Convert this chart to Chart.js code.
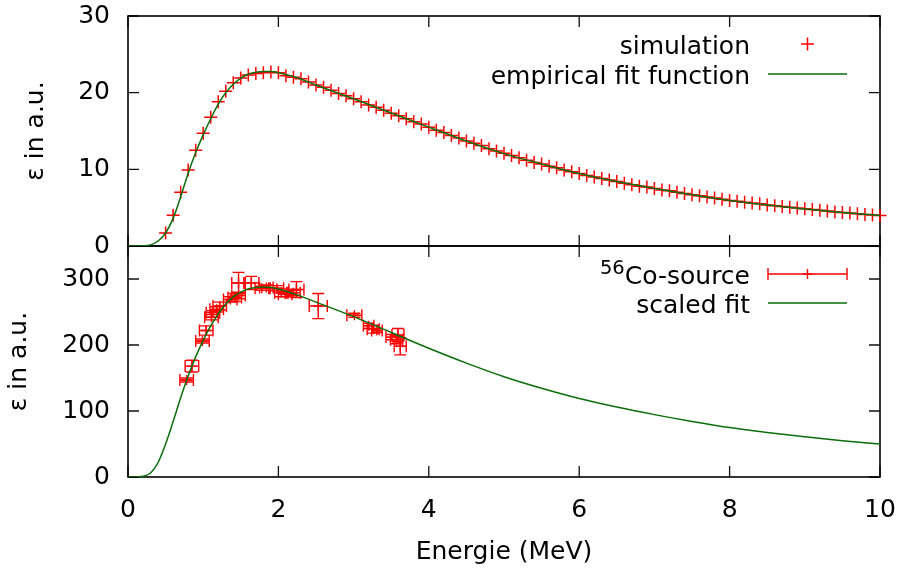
<!DOCTYPE html>
<html><head><meta charset="utf-8">
<script src="https://cdn.jsdelivr.net/npm/chart.js@4/dist/chart.umd.min.js"></script>
<style>
html,body{margin:0;padding:0;background:#fff;}
#wrap{position:relative;width:903px;height:570px;}
canvas{position:absolute;left:0;top:0;}
</style></head><body>
<div id="wrap"><canvas id="bot" width="903" height="570"></canvas><canvas id="top" width="903" height="570"></canvas></div>
<script>
// ---------- data ----------
const xTicks = [0, 2, 4, 6, 8, 10];
const yTicksTop = [0, 10, 20, 30];
const yTicksBottom = [0, 100, 200, 300];

const simX = [0.5,0.6,0.7,0.8,0.9,1.0,1.1,1.2,1.3,1.4,1.5,1.6,1.7,1.8,1.9,2.0,2.1,2.2,2.3,2.4,2.5,2.6,2.7,2.8,2.9,3.0,3.1,3.2,3.3,3.4,3.5,3.6,3.7,3.8,3.9,4.0,4.1,4.2,4.3,4.4,4.5,4.6,4.7,4.8,4.9,5.0,5.1,5.2,5.3,5.4,5.5,5.6,5.7,5.8,5.9,6.0,6.1,6.2,6.3,6.4,6.5,6.6,6.7,6.8,6.9,7.0,7.1,7.2,7.3,7.4,7.5,7.6,7.7,7.8,7.9,8.0,8.1,8.2,8.3,8.4,8.5,8.6,8.7,8.8,8.9,9.0,9.1,9.2,9.3,9.4,9.5,9.6,9.7,9.8,9.9,10.0];
const simY = [1.7,4.0,7.0,9.9,12.5,14.7,16.8,18.8,20.2,21.3,21.9,22.3,22.5,22.6,22.7,22.6,22.2,22.0,21.8,21.4,21.0,20.7,20.3,19.9,19.6,19.2,18.8,18.4,18.1,17.7,17.3,17.0,16.6,16.2,15.9,15.5,15.1,14.8,14.4,14.1,13.7,13.4,13.1,12.7,12.4,12.1,11.8,11.5,11.2,10.9,10.7,10.4,10.2,9.9,9.7,9.45,9.2,9.0,8.8,8.6,8.4,8.2,8.0,7.8,7.7,7.5,7.3,7.2,7.0,6.85,6.7,6.55,6.4,6.25,6.1,5.95,5.85,5.7,5.6,5.5,5.35,5.25,5.15,5.05,4.95,4.85,4.75,4.65,4.55,4.45,4.37,4.3,4.2,4.12,4.05,3.97];

const fitX = [0,0.1,0.2,0.3,0.4,0.5,0.6,0.7,0.8,0.9,1.0,1.1,1.2,1.3,1.4,1.5,1.6,1.7,1.8,1.9,2.0,2.25,2.5,3.0,3.5,4.0,4.5,5.0,5.5,6.0,6.5,7.0,7.5,8.0,8.5,9.0,9.5,10.0];
const fitY = [0,0,0.02,0.15,0.65,1.7,3.6,6.4,9.5,12.2,14.5,16.6,18.5,20.0,21.1,21.9,22.4,22.65,22.75,22.75,22.6,21.95,21.0,19.2,17.35,15.5,13.7,12.05,10.7,9.45,8.4,7.5,6.68,5.95,5.36,4.83,4.37,3.97];

const scaledFitX = [0,0.1,0.2,0.3,0.4,0.5,0.6,0.7,0.8,0.9,1.0,1.1,1.2,1.3,1.4,1.5,1.6,1.7,1.8,1.9,2.0,2.25,2.5,3.0,3.5,4.0,4.5,5.0,5.5,6.0,6.5,7.0,7.5,8.0,8.5,9.0,9.5,10.0];
const scaledFitY = [0,0,1,6,22,50,84,120,153,182,207,229,247,262,273,280,285,287,288,287,285,276,265,243,219,195,172.5,152,134.5,119,106,94.5,84.2,75,67.5,60.9,55.1,50];

const coX    = [0.78,0.85,0.99,1.04,1.11,1.13,1.18,1.22,1.36,1.42,1.47,1.47,1.64,1.78,1.84,1.98,2.04,2.09,2.20,2.24,2.53,3.01,3.20,3.26,3.31,3.51,3.57,3.59,3.62];
const coY    = [147,168,206,222,242,249,254,259,269,272,275,294,294,286,287,286,279,277,279,284,259,245,229,224,222,212,208,215,198];
const coXErr = [0.09,0.09,0.09,0.09,0.09,0.09,0.09,0.09,0.09,0.09,0.09,0.09,0.1,0.09,0.09,0.09,0.09,0.09,0.09,0.1,0.12,0.1,0.07,0.08,0.07,0.08,0.08,0.08,0.08];
const coYErr = [3,9,3,7,4,3,4,6,4,6,5,16,10,3,4,4,6,4,4,12,19,3,4,6,3,4,6,10,13];

// ---------- styling ----------
const FAMILY = "'DejaVu Sans', 'Liberation Sans', sans-serif";
const FS = 25;
const RED = '#ff0000';
const GREEN = '#0b6e0b';
const TICK = 11;
const CAP = 6;

const pts = (xs, ys) => xs.map((x, i) => ({x: x, y: ys[i]}));

function framePlugin(yTicks) {
  return {
    id: 'frame',
    beforeDatasetsDraw(chart) {
      const {ctx, chartArea: a, scales} = chart;
      ctx.save();
      ctx.strokeStyle = '#111';
      ctx.lineWidth = 1.3;
      ctx.beginPath();
      xTicks.forEach(v => {
        const px = scales.x.getPixelForValue(v);
        ctx.moveTo(px, a.bottom); ctx.lineTo(px, a.bottom - TICK);
        ctx.moveTo(px, a.top); ctx.lineTo(px, a.top + TICK);
      });
      yTicks.forEach(v => {
        const py = scales.y.getPixelForValue(v);
        ctx.moveTo(a.left, py); ctx.lineTo(a.left + TICK, py);
        ctx.moveTo(a.right, py); ctx.lineTo(a.right - TICK, py);
      });
      ctx.stroke();
      ctx.lineWidth = 1.6;
      ctx.strokeStyle = '#000';
      ctx.strokeRect(a.left, a.top, a.right - a.left, a.bottom - a.top);
      ctx.restore();
    }
  };
}

function drawCross(ctx, x, y, r) {
  ctx.beginPath();
  ctx.moveTo(x - r, y); ctx.lineTo(x + r, y);
  ctx.moveTo(x, y - r); ctx.lineTo(x, y + r);
  ctx.stroke();
}

const errPlugin = {
  id: 'errbars',
  beforeDatasetsDraw(chart) {
    const {ctx, scales} = chart;
    const sx = scales.x, sy = scales.y;
    ctx.save();
    ctx.strokeStyle = RED;
    ctx.lineWidth = 1.4;
    ctx.beginPath();
    coX.forEach((xv, i) => {
      const px = sx.getPixelForValue(xv), py = sy.getPixelForValue(coY[i]);
      const xl = sx.getPixelForValue(xv - coXErr[i]), xr = sx.getPixelForValue(xv + coXErr[i]);
      const yt = sy.getPixelForValue(coY[i] + coYErr[i]), yb = sy.getPixelForValue(coY[i] - coYErr[i]);
      ctx.moveTo(xl, py); ctx.lineTo(xr, py);
      ctx.moveTo(xl, py - CAP); ctx.lineTo(xl, py + CAP);
      ctx.moveTo(xr, py - CAP); ctx.lineTo(xr, py + CAP);
      ctx.moveTo(px, yt); ctx.lineTo(px, yb);
      ctx.moveTo(px - CAP, yt); ctx.lineTo(px + CAP, yt);
      ctx.moveTo(px - CAP, yb); ctx.lineTo(px + CAP, yb);
    });
    ctx.stroke();
    ctx.restore();
  }
};

const topLegend = {
  id: 'topLegend',
  afterDraw(chart) {
    const {ctx, chartArea: a} = chart;
    const tx = a.right - 130, s0 = a.right - 112, s1 = a.right - 33;
    ctx.save();
    ctx.font = FS + 'px ' + FAMILY;
    ctx.fillStyle = '#000';
    ctx.textAlign = 'right';
    ctx.textBaseline = 'alphabetic';
    ctx.fillText('simulation', tx, a.top + 38);
    ctx.fillText('empirical fit function', tx, a.top + 68);
    ctx.strokeStyle = RED; ctx.lineWidth = 1.5;
    drawCross(ctx, (s0 + s1) / 2, a.top + 28, 6.5);
    ctx.strokeStyle = GREEN; ctx.lineWidth = 1.5;
    ctx.beginPath(); ctx.moveTo(s0, a.top + 58); ctx.lineTo(s1, a.top + 58); ctx.stroke();
    ctx.restore();
  }
};

const botLegend = {
  id: 'botLegend',
  afterDraw(chart) {
    const {ctx, chartArea: a} = chart;
    const tx = a.right - 130, s0 = a.right - 112, s1 = a.right - 33;
    const r1 = a.top + 28, r2 = a.top + 57;
    ctx.save();
    ctx.fillStyle = '#000';
    ctx.textBaseline = 'alphabetic';
    ctx.textAlign = 'right';
    ctx.font = FS + 'px ' + FAMILY;
    const main = 'Co-source';
    ctx.fillText(main, tx, r1 + 10);
    const w = ctx.measureText(main).width;
    ctx.font = '19.5px ' + FAMILY;
    ctx.fillText('56', tx - w, r1);
    ctx.font = FS + 'px ' + FAMILY;
    ctx.fillText('scaled fit', tx, r2 + 10);
    ctx.strokeStyle = RED; ctx.lineWidth = 1.4;
    ctx.beginPath();
    ctx.moveTo(s0, r1); ctx.lineTo(s1, r1);
    ctx.moveTo(s0, r1 - CAP); ctx.lineTo(s0, r1 + CAP);
    ctx.moveTo(s1, r1 - CAP); ctx.lineTo(s1, r1 + CAP);
    ctx.stroke();
    drawCross(ctx, (s0 + s1) / 2, r1, 5);
    ctx.strokeStyle = GREEN; ctx.lineWidth = 1.5;
    ctx.beginPath(); ctx.moveTo(s0, r2); ctx.lineTo(s1, r2); ctx.stroke();
    ctx.restore();
  }
};

const tickFont = {family: FAMILY, size: FS};

function yScale(min, max, ticks, width) {
  return {
    type: 'linear', min: min, max: max,
    afterBuildTicks: s => { s.ticks = ticks.map(v => ({value: v})); },
    afterFit: s => { s.width = width; s.paddingTop = 0; s.paddingBottom = 0; },
    grid: {display: false, drawTicks: false},
    border: {display: false},
    ticks: {padding: 18, color: '#000', font: tickFont},
    title: {display: true, text: 'ε in a.u.', color: '#000', font: tickFont, padding: 0}
  };
}

Chart.defaults.font.family = FAMILY;

new Chart(document.getElementById('top'), {
  type: 'scatter',
  data: {
    datasets: [
      {label: 'empirical fit function', data: pts(fitX, fitY), showLine: true, pointRadius: 0,
       borderColor: GREEN, borderWidth: 1.5, cubicInterpolationMode: 'monotone', fill: false},
      {label: 'simulation', data: pts(simX, simY), showLine: false, pointStyle: 'cross', pointRadius: 6.5,
       borderColor: RED, backgroundColor: RED, pointBorderWidth: 1.5, borderWidth: 1.5, clip: false}
    ]
  },
  options: {
    responsive: false, animation: false, events: [],
    layout: {padding: {left: 21, right: 23, top: 16, bottom: 324}},
    plugins: {legend: {display: false}, tooltip: {enabled: false}},
    scales: {
      x: {type: 'linear', min: 0, max: 10, display: false,
          afterFit: s => { s.height = 0; s.paddingLeft = 0; s.paddingRight = 0; }},
      y: yScale(0, 30, yTicksTop, 128 - 21)
    }
  },
  plugins: [framePlugin(yTicksTop), topLegend]
});

new Chart(document.getElementById('bot'), {
  type: 'scatter',
  data: {
    datasets: [
      {label: 'scaled fit', data: pts(scaledFitX, scaledFitY), showLine: true, pointRadius: 0,
       borderColor: GREEN, borderWidth: 1.5, cubicInterpolationMode: 'monotone', fill: false},
      {label: '56Co-source', data: pts(coX, coY), showLine: false, pointStyle: 'cross', pointRadius: 5,
       borderColor: RED, backgroundColor: RED, pointBorderWidth: 1.4, borderWidth: 1.4}
    ]
  },
  options: {
    responsive: false, animation: false, events: [],
    layout: {padding: {left: 4, right: 23, top: 246, bottom: 0}},
    plugins: {legend: {display: false}, tooltip: {enabled: false}},
    scales: {
      x: {
        type: 'linear', min: 0, max: 10,
        afterBuildTicks: s => { s.ticks = xTicks.map(v => ({value: v})); },
        afterFit: s => { s.height = 93; s.paddingLeft = 0; s.paddingRight = 0; },
        grid: {display: false, drawTicks: false},
        border: {display: false},
        ticks: {padding: 18, color: '#000', font: tickFont, maxRotation: 0},
        title: {display: true, text: 'Energie (MeV)', color: '#000', font: tickFont, padding: {top: 0, bottom: 3}}
      },
      y: yScale(0, 350, yTicksBottom, 128 - 4)
    }
  },
  plugins: [framePlugin(yTicksBottom), errPlugin, botLegend]
});
</script>
</body></html>
